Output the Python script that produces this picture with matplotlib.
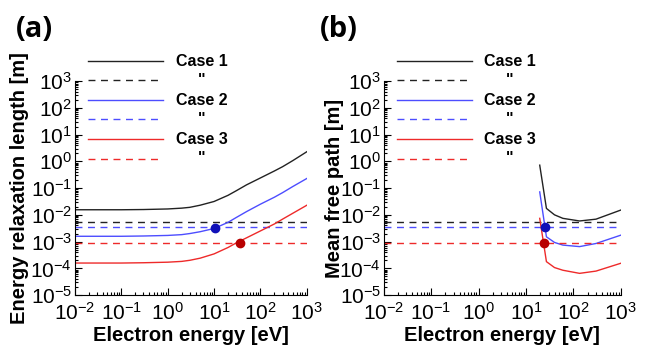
import numpy as np
import matplotlib.pyplot as plt
from matplotlib.ticker import LogLocator, NullFormatter

plt.rcParams['font.family'] = ['Liberation Sans', 'DejaVu Sans']

# (a) energy relaxation length vs electron energy
E_a = [0.01, 0.1, 0.3, 1, 2, 3, 5, 10, 20, 30, 50, 100, 200, 300, 500, 1000]
relax_case1 = [0.0155, 0.0155, 0.0158, 0.0166, 0.0178, 0.0191, 0.0229, 0.0316,
               0.0537, 0.0794, 0.132, 0.240, 0.437, 0.631, 1.07, 2.29]
relax_case2 = [1.58e-3, 1.58e-3, 1.62e-3, 1.70e-3, 1.82e-3, 2.0e-3, 2.34e-3, 3.09e-3,
               5.25e-3, 7.94e-3, 1.32e-2, 2.51e-2, 4.57e-2, 6.76e-2, 0.115, 0.229]
relax_case3 = [1.58e-4, 1.58e-4, 1.62e-4, 1.70e-4, 1.82e-4, 2.0e-4, 2.4e-4, 3.47e-4,
               6.03e-4, 8.91e-4, 1.38e-3, 2.51e-3, 4.57e-3, 6.92e-3, 1.15e-2, 2.29e-2]

# (b) mean free path vs electron energy
E_b = [19.5, 27, 40, 60, 135, 300, 1000]
mfp_case1 = [0.72, 0.0174, 0.0100, 0.0074, 0.0059, 0.0069, 0.0151]
mfp_case2 = [0.072, 1.51e-3, 9.3e-4, 7.4e-4, 6.5e-4, 8.5e-4, 1.74e-3]
mfp_case3 = [7.4e-3, 1.78e-4, 1.07e-4, 8.5e-5, 6.5e-5, 7.9e-5, 1.55e-4]

# reference lengths (dashed) and crossing points
ref_len = [5.5e-3, 3.4e-3, 8.5e-4]
cross_a_E = [10.7, 36]
cross_a_L = [3.3e-3, 8.5e-4]
cross_b_E = [25, 24]
cross_b_L = [3.5e-3, 8.5e-4]

labels = ['Case 1', '"', 'Case 2', '"', 'Case 3', '"']
line_colors = ['#222222', '#4d4dff', '#ee2a2a']
dot_colors = ['#1010b8', '#b80000']

fig = plt.figure(figsize=(6.46, 3.48), dpi=100)
ax1 = fig.add_axes([0.116, 0.152, 0.359, 0.615])
ax2 = fig.add_axes([0.594, 0.152, 0.367, 0.615])


def style(ax, ylabel, xlab_x):
    ax.set_xscale('log')
    ax.set_yscale('log')
    ax.set_xlim(1e-2, 1e3)
    ax.set_ylim(1e-5, 1e3)
    ax.spines['top'].set_visible(False)
    ax.spines['right'].set_visible(False)
    ax.xaxis.set_major_locator(LogLocator(base=10, numticks=20))
    ax.yaxis.set_major_locator(LogLocator(base=10, numticks=20))
    ax.xaxis.set_minor_locator(LogLocator(base=10, subs=np.arange(2, 10), numticks=20))
    ax.yaxis.set_minor_locator(LogLocator(base=10, subs=np.arange(2, 10), numticks=20))
    ax.xaxis.set_minor_formatter(NullFormatter())
    ax.yaxis.set_minor_formatter(NullFormatter())
    ax.tick_params(which='both', direction='in', labelsize=15, width=0.8)
    ax.tick_params(which='major', length=5)
    ax.tick_params(axis='x', which='major', pad=5)
    ax.tick_params(axis='y', which='major', pad=2)
    ax.tick_params(which='minor', length=2.5)
    ax.set_xlabel('Electron energy [eV]', fontsize=14.5, fontweight='bold')
    ax.set_ylabel(ylabel, fontsize=14.5, fontweight='bold')
    ax.xaxis.set_label_coords(0.5, -0.145)
    ax.yaxis.set_label_coords(xlab_x, 0.5)


def legend_block(ax, x0, x1, xt):
    ys = [1.093, 1.005, 0.911, 0.822, 0.729, 0.636]
    for i, (lab, y) in enumerate(zip(labels, ys)):
        ls = '-' if i % 2 == 0 else (0, (5, 4))
        ax.plot([x0, x1], [y, y], color=line_colors[i // 2], lw=1.0, ls=ls,
                transform=ax.transAxes, clip_on=False)
        ax.text(xt, y, lab, transform=ax.transAxes, ha='center', va='center',
                fontsize=11.5, fontweight='bold')


curves_a = [relax_case1, relax_case2, relax_case3]
curves_b = [mfp_case1, mfp_case2, mfp_case3]

for c, col in enumerate(line_colors):
    ax1.plot(E_a, curves_a[c], color=col, lw=1.0)
    ax1.plot([1e-2, 1e3], [ref_len[c], ref_len[c]], color=col, lw=1.0, ls=(0, (5, 4)))
    ax2.plot(E_b, curves_b[c], color=col, lw=1.0)
    ax2.plot([1e-2, 1e3], [ref_len[c], ref_len[c]], color=col, lw=1.0, ls=(0, (5, 4)))

for k in range(2):
    ax1.plot(cross_a_E[k], cross_a_L[k], 'o', color=dot_colors[k], ms=6, zorder=5)
    ax2.plot(cross_b_E[k], cross_b_L[k], 'o', color=dot_colors[k], ms=6, zorder=5)

style(ax1, 'Energy relaxation length [m]', -0.198)
style(ax2, 'Mean free path [m]', -0.168)
legend_block(ax1, 0.056, 0.379, 0.547)
legend_block(ax2, 0.055, 0.371, 0.53)

fig.text(0.024, 0.915, '(a)', fontsize=21, fontweight='bold', family='Open Sans', va='center')
fig.text(0.495, 0.915, '(b)', fontsize=21, fontweight='bold', family='Open Sans', va='center')

fig.savefig('out.png', dpi=100)
